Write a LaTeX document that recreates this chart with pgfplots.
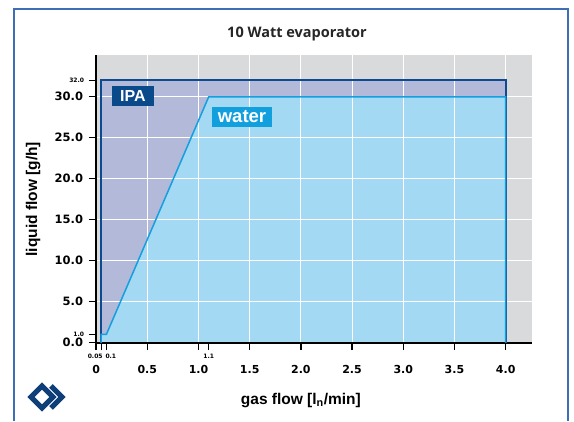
\documentclass[border=0pt]{standalone}
\usepackage{fontspec}
\usepackage{pgfplots}
\pgfplotsset{compat=1.18}
\setmainfont{Liberation Sans}
\newfontfamily\tickfont{DejaVu Sans}
\newfontfamily\titlefont{Open Sans}
\definecolor{bggray}{HTML}{D9DADC}
\definecolor{ipafill}{HTML}{B3B9D9}
\definecolor{ipaline}{HTML}{0E4A8F}
\definecolor{waterfill}{HTML}{A3D9F3}
\definecolor{waterline}{HTML}{159FDF}
\definecolor{ipalabel}{HTML}{0B4A8A}
\definecolor{waterlabel}{HTML}{129FDE}
\definecolor{framecol}{HTML}{3D6FB6}
\definecolor{logocol}{HTML}{0E3F78}
\begin{document}
\begin{tikzpicture}[x=1pt,y=1pt]
\path (0,0) rectangle (574,421);
\draw[framecol, line width=1.4pt] (14,0) -- (14,412) -- (568,412) -- (568,0);
\node[font=\titlefont\bfseries\fontsize{14.5}{16}\selectfont, text=black!85] at (297,387.5) {10 Watt evaporator};
% logo
\draw[logocol, line width=5pt, line join=miter] (42,35) -- (53,24) -- (42,13) -- (31,24) -- cycle;
\draw[logocol, line width=5pt, line join=miter] (51,35) -- (62,24) -- (51,13);
\begin{axis}[
  at={(96.1pt,78.3pt)}, anchor=south west,
  scale only axis, width=436.2pt, height=287.7pt,
  xmin=0, xmax=4.26, ymin=0, ymax=35.1,
  set layers, axis on top,
  axis background/.style={fill=bggray},
  axis x line*=bottom, axis y line*=left,
  axis line style={line width=1.8pt, black, -},
  xtick={0,0.5,1,1.5,2,2.5,3,3.5,4},
  xticklabels={0,0.5,1.0,1.5,2.0,2.5,3.0,3.5,4.0},
  ytick={0,5,10,15,20,25,30},
  yticklabels={0.0,5.0,10.0,15.0,20.0,25.0,30.0},
  tick align=outside, major tick length=7.5pt,
  tick style={line width=1.4pt, black},
  grid=major, major grid style={white, line width=1pt},
  xticklabel style={font=\tickfont\bfseries\fontsize{11}{12}\selectfont, yshift=-12pt},
  yticklabel style={font=\tickfont\bfseries\fontsize{11.5}{12}\selectfont, xshift=-2pt},
  extra x ticks={0.05,0.1,1.1},
  extra x tick labels={{\kern-12pt 0.05},{\kern9pt 0.1},{1.1}},
  extra x tick style={grid=none, major tick length=7.5pt,
    xticklabel style={font=\tickfont\bfseries\fontsize{6}{7}\selectfont, yshift=12pt}},
  extra y ticks={1,32},
  extra y tick labels={1.0,32.0},
  extra y tick style={grid=none,
    yticklabel style={font=\tickfont\bfseries\fontsize{6}{7}\selectfont, xshift=1pt}},
  xlabel={gas flow [l\textsubscript{n}/min]},
  ylabel={liquid flow [g/h]},
  label style={font=\bfseries\fontsize{15.5}{17}\selectfont},
  xlabel style={at={(rel axis cs:0.4695,0)}, anchor=center, yshift=-58pt},
  ylabel style={at={(rel axis cs:0,0.4986)}, anchor=center, yshift=63pt},
]
% filled regions
\addplot[fill=ipafill, draw=none] coordinates {(0.05,0) (0.05,32) (4,32) (4,0)} -- cycle;
\addplot[fill=waterfill, draw=none] coordinates {(0.05,0) (0.05,1) (0.1,1) (1.1,30) (4,30) (4,0)} -- cycle;
\begin{pgfonlayer}{axis foreground}
\addplot[draw=ipaline, line width=2pt, line join=miter] coordinates {(0.05,0) (0.05,32) (4,32) (4,0)};
\addplot[draw=waterline, line width=1.5pt, line join=miter] coordinates {(0.05,0) (0.05,1) (0.1,1) (1.1,30) (4,30) (4,0)};
\node[fill=ipalabel, text=white, font=\bfseries\fontsize{16}{17}\selectfont, minimum width=42pt, minimum height=20pt, inner sep=0pt] at (axis cs:0.36,30.1) {IPA};
\node[fill=waterlabel, text=white, font=\bfseries\fontsize{18.5}{19}\selectfont, minimum width=60pt, minimum height=20pt, inner sep=0pt] at (axis cs:1.425,27.55) {water};
\end{pgfonlayer}
\end{axis}
\end{tikzpicture}
\end{document}
